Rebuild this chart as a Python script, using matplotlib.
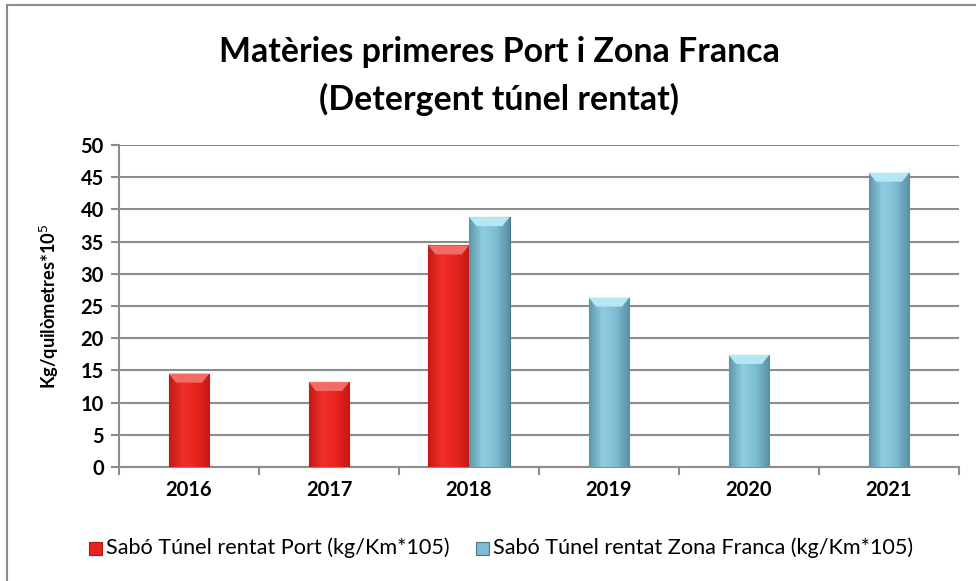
import numpy as np
import matplotlib
matplotlib.use("Agg")
import matplotlib.pyplot as plt
from matplotlib.patches import Rectangle
from matplotlib.colors import LinearSegmentedColormap

plt.rcParams['font.family'] = ['Lato', 'DejaVu Sans']

anys = ['2016', '2017', '2018', '2019', '2020', '2021']
port = [14.5, 13.2, 34.4, 0, 0, 0]
zona_franca = [0, 0, 38.8, 26.3, 17.4, 45.7]

nom_port = 'Sabó Túnel rentat Port (kg/Km*105)'
nom_zf = 'Sabó Túnel rentat Zona Franca (kg/Km*105)'
titol = ['Matèries primeres Port i Zona Franca', '(Detergent túnel rentat)']

W, H = 976, 581
fig = plt.figure(figsize=(W/100, H/100), dpi=100)
ax = fig.add_axes([119/W, 1-467/H, 840/W, 322/H])
renderer = fig.canvas.get_renderer()


def ajusta(t, amplada):
    # escala la mida de la lletra perquè el text faci l'amplada donada (px)
    w = t.get_window_extent(renderer).width
    t.set_fontsize(t.get_fontsize() * amplada / w)


# marc exterior
fig.patches.append(Rectangle((7/W, -0.1), 1.2, (H-5)/H + 0.1,
                             transform=fig.transFigure, fill=False,
                             edgecolor='#8c8c8c', lw=1.5))

x = np.arange(len(anys))
w = 0.29
ip = [i for i in x if port[i]]
iz = [i for i in x if zona_franca[i]]
xp = [i - w/2 if zona_franca[i] else i for i in ip]
xz = [i + w/2 if port[i] else i for i in iz]

b1 = ax.bar(xp, [port[i] for i in ip], w, color='#e8231f',
            edgecolor='#a81512', lw=0.8, zorder=3, label=nom_port)
b2 = ax.bar(xz, [zona_franca[i] for i in iz], w, color='#7dbcd2',
            edgecolor='#4a7686', lw=0.8, zorder=3, label=nom_zf)

cmap_r = LinearSegmentedColormap.from_list('r', ['#c41a16', '#f0302a', '#e8231f', '#c41a16'])
cmap_b = LinearSegmentedColormap.from_list('b', ['#5f97aa', '#8fcde2', '#7dbcd2', '#5a8fa2'])
grad = np.linspace(0, 1, 64).reshape(1, -1)
for bars, cm, top in ((b1, cmap_r, '#f46a64'), (b2, cmap_b, '#b4e6f4')):
    for b in bars:
        bx, bw, bh = b.get_x(), b.get_width(), b.get_height()
        im = ax.imshow(grad, cmap=cm, aspect='auto', zorder=3.5,
                       extent=(bx, bx + bw, 0, bh))
        im.set_clip_path(b)
        d = bw * 0.18
        ax.fill([bx, bx + bw, bx + bw - d, bx + d], [bh, bh, bh - 1.4, bh - 1.4],
                color=top, zorder=4, lw=0)

ax.set_xlim(-0.5, 5.5)
ax.set_ylim(0, 50)
ax.set_yticks(range(0, 51, 5))
ax.yaxis.grid(True, color='#8c8c8c', lw=1.5, zorder=0)
ax.set_xticks(x)
ax.set_xticklabels(anys, fontweight='bold', fontsize=14.5)
ax.set_xticks(np.arange(-0.5, 6, 1), minor=True)
ax.tick_params(axis='x', which='major', length=0, pad=9)
ax.tick_params(axis='x', which='minor', length=6, width=1.5, color='#8c8c8c')
ax.tick_params(axis='y', length=6, width=1.5, color='#8c8c8c', labelsize=14.5, pad=5)
for t in ax.get_yticklabels():
    t.set_fontweight('bold')
for s in ['top', 'right']:
    ax.spines[s].set_visible(False)
for s in ['left', 'bottom']:
    ax.spines[s].set_color('#8c8c8c')
    ax.spines[s].set_linewidth(1.5)

yl = ax.set_ylabel('Kg/quilòmetres*10$^5$', fontweight='bold', fontsize=12)
ax.yaxis.set_label_coords((61 - 119) / 840, 0.5)
fig.canvas.draw()
h_lab = yl.get_window_extent(renderer).height
yl.set_fontsize(yl.get_fontsize() * 165 / h_lab)

t1 = fig.text(499/W, 1-52/H, titol[0], ha='center', va='center',
              fontsize=20, fontweight='bold')
t2 = fig.text(499/W, 1-99/H, titol[1], ha='center', va='center',
              fontsize=20, fontweight='bold')
ajusta(t1, 560)
t2.set_fontsize(t1.get_fontsize())

leg = fig.legend(handles=[b1, b2], loc='center', bbox_to_anchor=(501/W, 1-548/H),
                 ncol=2, frameon=False, fontsize=12, handlelength=0.75,
                 handleheight=0.75, handletextpad=0.25, columnspacing=1.6)
fig.canvas.draw()
tl = leg.get_texts()[0]
f = 343 / tl.get_window_extent(renderer).width
for t in leg.get_texts():
    t.set_fontsize(t.get_fontsize() * f)

fig.savefig('out.png', dpi=100)
